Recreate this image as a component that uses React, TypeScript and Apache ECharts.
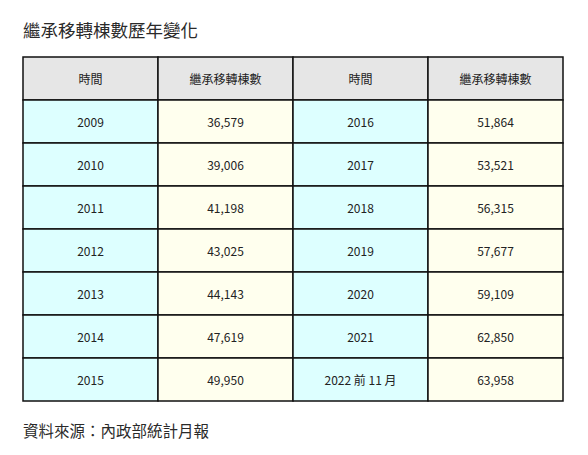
import { useEffect, useRef } from "react";
import * as echarts from "echarts";

const headers = ["時間", "繼承移轉棟數", "時間", "繼承移轉棟數"];
const yearsLeft = ["2009", "2010", "2011", "2012", "2013", "2014", "2015"];
const countsLeft = [36579, 39006, 41198, 43025, 44143, 47619, 49950];
const yearsRight = ["2016", "2017", "2018", "2019", "2020", "2021", "2022 前 11 月"];
const countsRight = [51864, 53521, 56315, 57677, 59109, 62850, 63958];

const fill: Record<string, string> = {
  head: "#e6e6e6",
  year: "#ddffff",
  count: "#ffffee",
};

const App = () => {
  const chartRef = useRef<HTMLDivElement>(null);

  useEffect(() => {
    if (!chartRef.current) return;
    const chart = echarts.init(chartRef.current, null, { renderer: "svg" });

    // 每格: [欄, 列, 文字, 類型]
    const cells: (number | string)[][] = [];
    headers.forEach((h, c) => cells.push([c, 0, h, "head"]));
    yearsLeft.forEach((y, i) => {
      cells.push([0, i + 1, y, "year"]);
      cells.push([1, i + 1, countsLeft[i].toLocaleString("en-US"), "count"]);
    });
    yearsRight.forEach((y, i) => {
      cells.push([2, i + 1, y, "year"]);
      cells.push([3, i + 1, countsRight[i].toLocaleString("en-US"), "count"]);
    });

    chart.setOption({
      animation: false,
      title: [
        {
          text: "繼承移轉棟數歷年變化",
          left: 23,
          top: 21,
          padding: 0,
          textStyle: {
            fontFamily: "Noto Sans CJK TC",
            fontSize: 17.5,
            fontWeight: "normal",
            color: "#2a2a2a",
          },
        },
        {
          text: "資料來源：內政部統計月報",
          left: 23,
          top: 422,
          padding: 0,
          textStyle: {
            fontFamily: "Noto Sans CJK TC",
            fontSize: 15.5,
            fontWeight: "normal",
            color: "#2a2a2a",
          },
        },
      ],
      grid: { left: 23, top: 57, width: 540, height: 344 },
      xAxis: { type: "value", min: 0, max: 4, show: false },
      yAxis: { type: "value", min: 0, max: 8, inverse: true, show: false },
      series: [
        {
          type: "custom",
          data: cells,
          encode: { x: 0, y: 1 },
          renderItem: (params: any, api: any) => {
            const c = api.value(0);
            const r = api.value(1);
            const p0 = api.coord([c, r]);
            const p1 = api.coord([c + 1, r + 1]);
            const item = cells[params.dataIndex];
            return {
              type: "group",
              children: [
                {
                  type: "rect",
                  shape: { x: p0[0], y: p0[1], width: p1[0] - p0[0], height: p1[1] - p0[1] },
                  style: { fill: fill[item[3] as string], stroke: "#111", lineWidth: 1.5 },
                },
                {
                  type: "text",
                  x: (p0[0] + p1[0]) / 2,
                  y: (p0[1] + p1[1]) / 2,
                  style: {
                    text: item[2] as string,
                    align: "center",
                    verticalAlign: "middle",
                    fontFamily: "Noto Sans CJK TC",
                    fontSize: 12,
                    fill: "#222",
                  },
                },
              ],
            };
          },
        },
      ],
    });

    return () => {
      chart.dispose();
    };
  }, []);

  return (
    <div
      ref={chartRef}
      style={{ position: "fixed", left: 0, top: 0, width: "588px", height: "455px", background: "#fff" }}
    ></div>
  );
};

export default App;
